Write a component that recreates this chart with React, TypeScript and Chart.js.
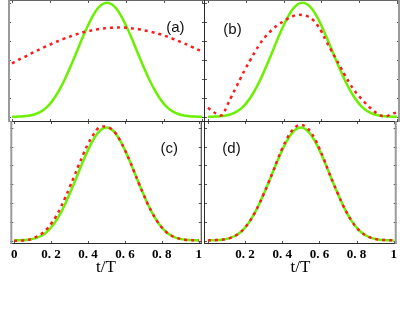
import React, { useEffect, useRef } from 'react';
import { Chart, registerables } from 'chart.js';

Chart.register(...registerables);

// ---------- data ----------
const tValues = [
  0, 0.025, 0.05, 0.075, 0.1, 0.125, 0.15, 0.175, 0.2, 0.225, 0.25, 0.275, 0.3, 0.325, 0.35, 0.375,
  0.4, 0.425, 0.45, 0.475, 0.5, 0.525, 0.55, 0.575, 0.6, 0.625, 0.65, 0.675, 0.7, 0.725, 0.75, 0.775,
  0.8, 0.825, 0.85, 0.875, 0.9, 0.925, 0.95, 0.975, 1,
];

const greenPulse = [
  0.003, 0.004, 0.005, 0.007, 0.011, 0.018, 0.029, 0.046, 0.071, 0.104, 0.145, 0.193, 0.248, 0.306, 0.366, 0.426,
  0.481, 0.53, 0.568, 0.592, 0.6, 0.592, 0.568, 0.53, 0.481, 0.426, 0.366, 0.306, 0.248, 0.193, 0.145, 0.104,
  0.071, 0.046, 0.029, 0.018, 0.011, 0.007, 0.005, 0.004, 0.003,
];

const redA = [
  0.283, 0.296, 0.309, 0.321, 0.334, 0.346, 0.358, 0.37, 0.381, 0.392, 0.402, 0.412, 0.421, 0.43, 0.438, 0.445,
  0.451, 0.456, 0.461, 0.465, 0.467, 0.469, 0.47, 0.47, 0.469, 0.467, 0.464, 0.46, 0.455, 0.45, 0.443, 0.436,
  0.428, 0.42, 0.41, 0.4, 0.39, 0.379, 0.367, 0.356, 0.344,
];

const redB = [
  0.05, 0.032, 0.016, 0.012, 0.06, 0.11, 0.16, 0.21, 0.258, 0.302, 0.345, 0.385, 0.418, 0.445, 0.468, 0.487,
  0.503, 0.518, 0.53, 0.536, 0.535, 0.53, 0.515, 0.488, 0.45, 0.4, 0.355, 0.31, 0.265, 0.22, 0.178, 0.14,
  0.11, 0.083, 0.058, 0.035, 0.018, 0.006, 0.008, 0.02, 0.025,
];

const redC = [
  0.001, 0.001, 0.003, 0.006, 0.012, 0.025, 0.039, 0.061, 0.091, 0.128, 0.174, 0.226, 0.283, 0.342, 0.402, 0.46,
  0.514, 0.556, 0.592, 0.605, 0.604, 0.594, 0.57, 0.53, 0.481, 0.426, 0.366, 0.306, 0.248, 0.193, 0.145, 0.104,
  0.071, 0.046, 0.029, 0.018, 0.011, 0.007, 0.005, 0.004, 0.003,
];

const redD = [
  0.003, 0.004, 0.005, 0.007, 0.011, 0.018, 0.029, 0.046, 0.071, 0.104, 0.145, 0.193, 0.248, 0.306, 0.366, 0.431,
  0.489, 0.541, 0.581, 0.606, 0.614, 0.606, 0.581, 0.541, 0.489, 0.431, 0.366, 0.306, 0.248, 0.193, 0.145, 0.104,
  0.071, 0.046, 0.029, 0.018, 0.011, 0.007, 0.005, 0.004, 0.003,
];

const xTickValues = [0, 0.2, 0.4, 0.6, 0.8, 1];
const xTickLabels = ['0', '0. 2', '0. 4', '0. 6', '0. 8', '1'];
const yTickValues = [0, 0.1, 0.2, 0.3, 0.4, 0.5, 0.6];
const panelLabels = ['(a)', '(b)', '(c)', '(d)'];
const xAxisTitle = 't/T';

// ---------- styles ----------
const GREEN = '#6af000';
const RED = '#ff1a1a';
const DARK = '#2a2a2a';
const GREY = '#9a9a9a';

type PanelSpec = {
  key: string;
  label: string;
  red: number[];
  left: number;
  top: number;
  width: number;
  height: number;
  axisHeight: number;
  yMin: number;
  yMax: number;
  labelX: number;
  labelY: number;
  showAxis: boolean;
  axisTicks: number[];
  sides: { left: [string, number]; right: [string, number]; top: [string, number]; bottom: [string, number] };
};

const framePlugin = {
  id: 'frame',
  afterDatasetsDraw(chart: any, _args: any, opts: any) {
    const { ctx, chartArea } = chart;
    const { left, right, top, bottom } = chartArea;
    const x = chart.scales.x;
    const y = chart.scales.y;
    ctx.save();
    ctx.strokeStyle = '#555';
    ctx.lineWidth = 1;
    ctx.beginPath();
    for (const v of yTickValues) {
      const py = Math.round(y.getPixelForValue(v)) + 0.5;
      ctx.moveTo(left, py);
      ctx.lineTo(left + 3, py);
      ctx.moveTo(right - 3, py);
      ctx.lineTo(right, py);
    }
    for (const v of xTickValues) {
      const px = Math.round(x.getPixelForValue(v)) + 0.5;
      ctx.moveTo(px, top);
      ctx.lineTo(px, top + 3);
      ctx.moveTo(px, bottom - 3);
      ctx.lineTo(px, bottom);
    }
    ctx.stroke();

    const side = (c: [string, number], x1: number, y1: number, x2: number, y2: number) => {
      ctx.strokeStyle = c[0];
      ctx.lineWidth = c[1];
      ctx.beginPath();
      ctx.moveTo(x1, y1);
      ctx.lineTo(x2, y2);
      ctx.stroke();
    };
    const s = opts.sides;
    side(s.top, left, top + s.top[1] / 2, right, top + s.top[1] / 2);
    side(s.bottom, left, bottom - s.bottom[1] / 2, right, bottom - s.bottom[1] / 2);
    side(s.left, left + s.left[1] / 2, top, left + s.left[1] / 2, bottom);
    side(s.right, right - s.right[1] / 2, top, right - s.right[1] / 2, bottom);

    ctx.fillStyle = '#111';
    ctx.font = '15px "Liberation Sans", Arial, sans-serif';
    ctx.textAlign = 'center';
    ctx.textBaseline = 'middle';
    ctx.fillText(opts.label, x.getPixelForValue(opts.labelX), y.getPixelForValue(opts.labelY));
    ctx.restore();
  },
};

function Panel({ spec }: { spec: PanelSpec }) {
  const ref = useRef<HTMLCanvasElement>(null);
  useEffect(() => {
    const canvas = ref.current;
    if (!canvas) return;
    const chart = new Chart(canvas, {
      type: 'line',
      data: {
        datasets: [
          {
            data: tValues.map((t, i) => ({ x: t, y: spec.red[i] })),
            borderColor: RED,
            borderWidth: 2.5,
            borderDash: [3, 4],
            pointRadius: 0,
            tension: 0.4,
            fill: false,
          },
          {
            data: tValues.map((t, i) => ({ x: t, y: greenPulse[i] })),
            borderColor: GREEN,
            borderWidth: 2.5,
            pointRadius: 0,
            tension: 0.4,
            fill: false,
          },
        ],
      },
      options: {
        animation: false,
        responsive: false,
        maintainAspectRatio: false,
        events: [],
        layout: { padding: 0, autoPadding: false },
        plugins: {
          legend: { display: false },
          tooltip: { enabled: false },
          frame: { sides: spec.sides, label: spec.label, labelX: spec.labelX, labelY: spec.labelY },
        } as any,
        scales: {
          x: {
            type: 'linear',
            min: -0.021,
            max: 1.016,
            display: spec.showAxis,
            grid: { display: false, drawTicks: false },
            border: { display: false },
            afterBuildTicks: (scale: any) => {
              scale.ticks = spec.axisTicks.map((v) => ({ value: v }));
            },
            afterFit: (scale: any) => {
              scale.height = spec.showAxis ? spec.axisHeight : 0;
            },
            ticks: {
              autoSkip: false,
              maxRotation: 0,
              padding: 3,
              color: '#000',
              font: { family: '"Liberation Serif", "DejaVu Serif", serif', size: 13, weight: 'bold' },
              callback: (v: any) => {
                const idx = xTickValues.findIndex((tv) => Math.abs(tv - Number(v)) < 1e-6);
                return idx >= 0 ? xTickLabels[idx] : '';
              },
            },
            title: {
              display: spec.showAxis,
              text: xAxisTitle,
              color: '#000',
              padding: 0,
              font: { family: '"Liberation Serif", "DejaVu Serif", serif', size: 17 },
            },
          },
          y: { type: 'linear', min: spec.yMin, max: spec.yMax, display: false },
        },
      } as any,
      plugins: [framePlugin],
    });
    return () => chart.destroy();
  }, [spec]);
  return (
    <div style={{ position: 'absolute', left: spec.left, top: spec.top, width: spec.width, height: spec.height }}>
      <canvas ref={ref} width={spec.width} height={spec.height} style={{ width: spec.width, height: spec.height, display: 'block' }} />
    </div>
  );
}

const panels: PanelSpec[] = [
  {
    key: 'a', label: panelLabels[0], red: redA, left: 8, top: 0, width: 197, height: 122, axisHeight: 0,
    yMin: -0.024, yMax: 0.614, labelX: 0.86, labelY: 0.468, showAxis: false, axisTicks: xTickValues,
    sides: { left: [GREY, 2], right: [DARK, 1], top: ['#666', 1], bottom: [DARK, 1] },
  },
  {
    key: 'b', label: panelLabels[1], red: redB, left: 204, top: 0, width: 196, height: 122, axisHeight: 0,
    yMin: -0.024, yMax: 0.614, labelX: 0.13, labelY: 0.457, showAxis: false, axisTicks: xTickValues,
    sides: { left: [DARK, 1], right: [GREY, 2], top: ['#666', 1], bottom: [DARK, 1] },
  },
  {
    key: 'c', label: panelLabels[2], red: redC, left: 8, top: 121, width: 197, height: 157, axisHeight: 34,
    yMin: -0.016, yMax: 0.635, labelX: 0.84, labelY: 0.49, showAxis: true, axisTicks: xTickValues,
    sides: { left: [GREY, 2], right: [DARK, 1], top: [DARK, 1], bottom: [DARK, 1] },
  },
  {
    key: 'd', label: panelLabels[3], red: redD, left: 204, top: 121, width: 196, height: 157, axisHeight: 34,
    yMin: -0.016, yMax: 0.635, labelX: 0.127, labelY: 0.487, showAxis: true, axisTicks: xTickValues.slice(1),
    sides: { left: [DARK, 1], right: [GREY, 2], top: [DARK, 1], bottom: [DARK, 1] },
  },
];

export default function App() {
  return (
    <div style={{ position: 'absolute', left: 0, top: 0, width: 415, height: 313 }}>
      {panels.map((p) => (
        <Panel key={p.key} spec={p} />
      ))}
    </div>
  );
}
